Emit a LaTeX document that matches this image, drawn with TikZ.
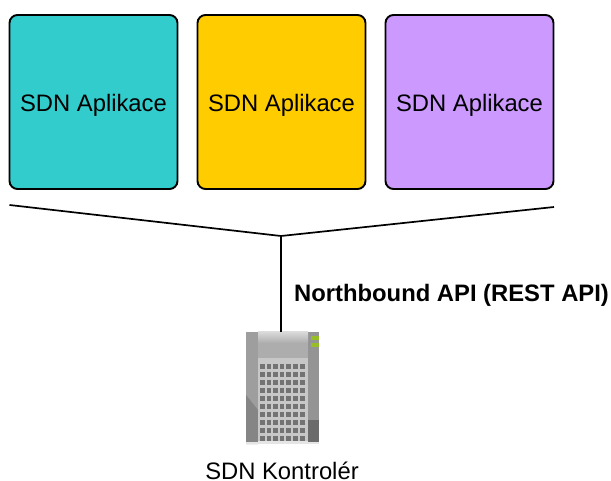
\documentclass[tikz,border=0pt]{standalone}
\usepackage{fontspec}
\setmainfont{Liberation Sans}
\begin{document}
\begin{tikzpicture}[x=1pt,y=-1pt,
  appbox/.style={draw=black,line width=1.9pt,outer sep=0pt,rounded corners=8pt,minimum width=168pt,minimum height=174pt,inner sep=0pt,anchor=north west,text height=19.4pt,text depth=0pt,font=\fontsize{23.8}{28}\selectfont},
  wire/.style={draw=black,line width=1.7pt},
  lbl/.style={font=\fontsize{23.8}{28}\selectfont,inner sep=0pt,anchor=base},
  cell/.style={fill=black!55,draw=none}]
\useasboundingbox (0,0) rectangle (611,481);
\definecolor{teal1}{HTML}{33CCCC}
\definecolor{gold1}{HTML}{FFCC00}
\definecolor{lila1}{HTML}{CC99FF}
\node[appbox,fill=teal1] (a1) at (9.5,15) {SDN Aplikace};
\node[appbox,fill=gold1] (a2) at (197.5,15) {SDN Aplikace};
\node[appbox,fill=lila1] (a3) at (385.5,15) {SDN Aplikace};
\coordinate (l) at (9.5,205);
\coordinate (r) at (554,207);
\coordinate (j) at (281,236);
% server
\node[minimum width=73pt,minimum height=112pt,inner sep=0pt,outer sep=0pt,anchor=north west] (srv) at (246,332) {};
\fill[black!40] (246,332) rectangle (319,444);
\fill[black!38] (246,332) rectangle (258,444);
\fill[black!48] (246,395) -- (258,410) -- (258,444) -- (246,444) -- cycle;
\fill[black!42] (308,332) rectangle (319,444);
\fill[black!58] (308,420) rectangle (319,444);
\shade[top color=black!15,bottom color=black!32] (258,332) rectangle (308,343);
\fill[black!32] (258,343) rectangle (308,358);
\fill[black!22] (258,358) rectangle (308,444);
\fill[black!10] (258,441) rectangle (308,444);
\fill[black!10] (246,442) rectangle (319,444);
\fill[lime!70!black!85] (311,336) rectangle (319,340);
\fill[lime!70!black!85] (311,343) rectangle (319,347);
\foreach \cx in {262.3,268.8,275.3,282,288.5,295.5,302.3}
  \foreach \cy in {366.7,374.7,382.7,390.7,398.7,406.7,414.7,422.7,430.7,438.7}
    \fill[cell] (\cx-2.2,\cy-2.4) rectangle (\cx+2.2,\cy+2.4);
\draw[wire] (l) -- (j) -- (r);
\draw[wire] (j) -- (srv.north -| j);
\node[anchor=base west,inner sep=0pt,font=\fontsize{23.8}{28}\selectfont\bfseries] (api) at (294,302) {Northbound API (REST API)};
\node[lbl] (k) at (282,479) {SDN Kontrolér};
\end{tikzpicture}
\end{document}
